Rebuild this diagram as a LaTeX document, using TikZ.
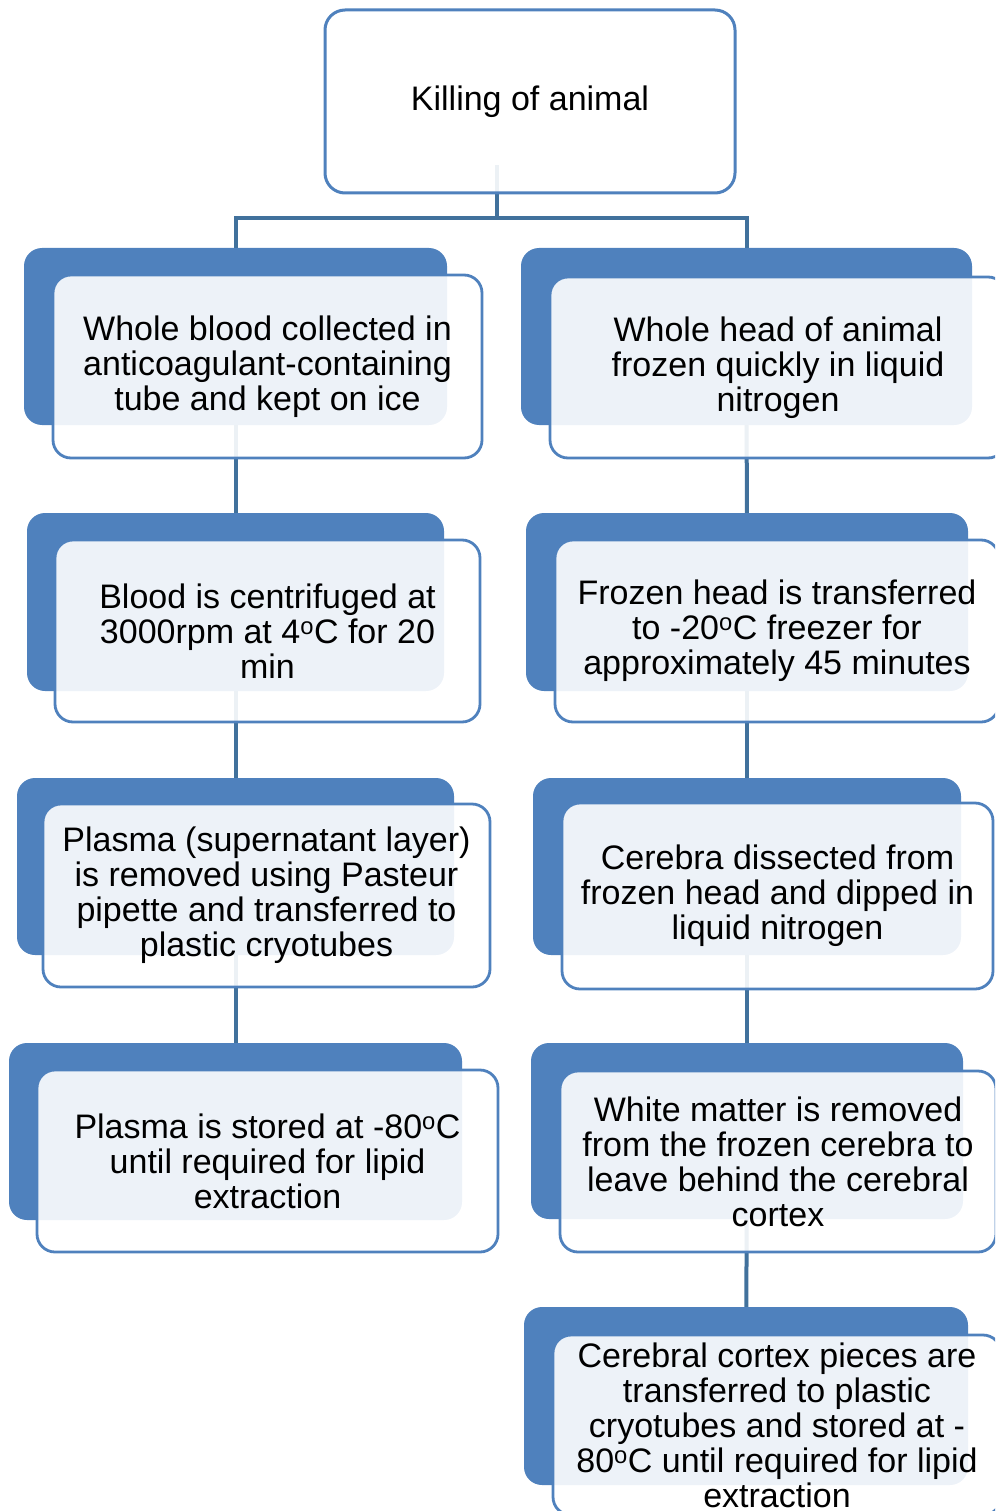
\documentclass[tikz,border=0pt]{standalone}
\usepackage{fontspec}
\setmainfont{Liberation Sans}
\usetikzlibrary{backgrounds}
\definecolor{accent}{HTML}{4F81BD}
\definecolor{linkblue}{HTML}{41719C}
\tikzset{
  backbox/.style={rectangle, rounded corners=18pt, fill=accent, draw=none, inner sep=0pt},
  frontbox/.style={rectangle, rounded corners=18pt, draw=accent, line width=2.8pt,
    fill=white, fill opacity=0.9, text opacity=1, inner sep=0pt, align=center,
    font=\fontsize{34}{35}\selectfont},
  topbox/.style={rectangle, rounded corners=20pt, draw=accent, line width=3pt,
    fill=white, fill opacity=0.9, text opacity=1, inner sep=0pt, align=center,
    font=\fontsize{34}{35}\selectfont},
  link/.style={draw=linkblue, line width=4pt}
}
\newcommand{\dg}{\textsuperscript{o}}
\begin{document}
\begin{tikzpicture}[x=1pt,y=-1pt]
\useasboundingbox (0,0) rectangle (995,1511);
\clip (0,0) rectangle (995,1511);

% root
\node[topbox, minimum width=410pt, minimum height=183pt] (top) at (530,101.5) {Killing of animal};

% left column: blood
\node[backbox, minimum width=423pt, minimum height=177pt] (b1L) at (235.5,336.5) {};
\node[frontbox, minimum width=429pt, minimum height=183pt] (f1L) at (267.5,366.5)
  {Whole blood collected in\\anticoagulant-containing\\tube and kept on ice};
\node[backbox, minimum width=417pt, minimum height=178pt] (b2L) at (235.5,602) {};
\node[frontbox, minimum width=425pt, minimum height=182pt] (f2L) at (267.5,631)
  {Blood is centrifuged at\\3000rpm at 4\dg C for 20\\min};
\node[backbox, minimum width=437pt, minimum height=177pt] (b3L) at (235.5,866.5) {};
\node[frontbox, minimum width=447pt, minimum height=183pt] (f3L) at (266.5,895.5)
  {Plasma (supernatant layer)\\is removed using Pasteur\\pipette and transferred to\\plastic cryotubes};
\node[backbox, minimum width=453pt, minimum height=177pt] (b4L) at (235.5,1131.5) {};
\node[frontbox, minimum width=461pt, minimum height=182pt] (f4L) at (267.5,1161)
  {Plasma is stored at -80\dg C\\until required for lipid\\extraction};

% right column: head
\node[backbox, minimum width=451pt, minimum height=177pt] (b1R) at (746.5,336.5) {};
\node[frontbox, minimum width=456pt, minimum height=181pt] (f1R) at (778,367.5)
  {Whole head of animal\\frozen quickly in liquid\\nitrogen};
\node[backbox, minimum width=442pt, minimum height=178pt] (b2R) at (747,602) {};
\node[frontbox, minimum width=444pt, minimum height=182pt] (f2R) at (777,631)
  {Frozen head is transferred\\to -20\dg C freezer for\\approximately 45 minutes};
\node[backbox, minimum width=428pt, minimum height=177pt] (b3R) at (747,866.5) {};
\node[frontbox, minimum width=431pt, minimum height=186pt] (f3R) at (777.5,896)
  {Cerebra dissected from\\frozen head and dipped in\\liquid nitrogen};
\node[backbox, minimum width=432pt, minimum height=176pt] (b4R) at (747,1131) {};
\node[frontbox, minimum width=436pt, minimum height=181pt] (f4R) at (778,1161.5)
  {White matter is removed\\from the frozen cerebra to\\leave behind the cerebral\\cortex};
\node[backbox, minimum width=444pt, minimum height=178pt] (b5R) at (746,1396) {};
\node[frontbox, minimum width=448pt, minimum height=180pt] (f5R) at (777,1425)
  {Cerebral cortex pieces are\\transferred to plastic\\cryotubes and stored at -\\80\dg C until required for lipid\\extraction};

% connectors behind the boxes
\coordinate (stem) at (497,165);
\coordinate (hub) at (497,218);
\begin{scope}[on background layer]
  \draw[link] (stem) -- (hub);
  \draw[link] (b1L.center) |- (hub) -| (b1R.center);
  \draw[link] (b1L.center) -- (b2L.center);
  \draw[link] (b2L.center) -- (b3L.center);
  \draw[link] (b3L.center) -- (b4L.center);
  \draw[link] (b1R.center) -- (b2R.center);
  \draw[link] (b2R.center) -- (b3R.center);
  \draw[link] (b3R.center) -- (b4R.center);
  \draw[link] (b4R.center) -- (b5R.center);
\end{scope}
\end{tikzpicture}
\end{document}
